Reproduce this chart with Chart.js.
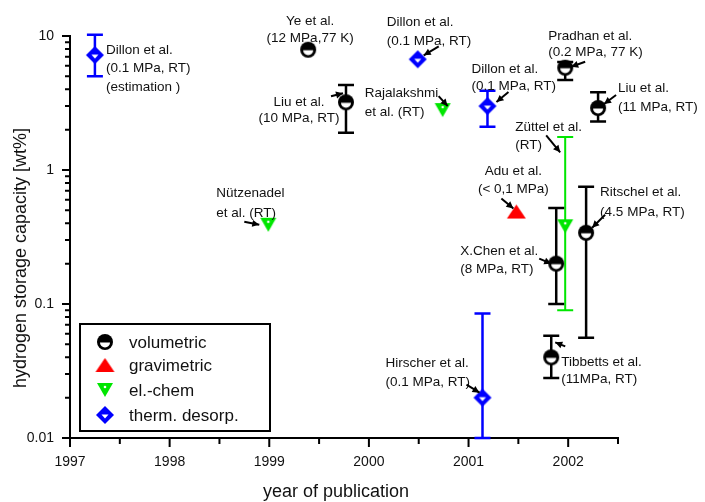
<!DOCTYPE html>
<html>
<head>
<meta charset="utf-8">
<title>Hydrogen storage capacity</title>
<script src="https://cdn.jsdelivr.net/npm/chart.js@4.4.1/dist/chart.umd.min.js"></script>
<style>
  html, body { margin: 0; padding: 0; background: #fff; }
  canvas { display: block; }
</style>
</head>
<body>
<canvas id="grafico" width="705" height="502"></canvas>
<script>
// --- data ---
const methodNames = ['volumetric', 'gravimetric', 'el.-chem', 'therm. desorp.'];
const methodColors = ['#000000', '#ff0000', '#00e600', '#0000ff'];

const years      = [1997.25, 1999.39, 2000.49, 1999.77, 2000.74, 2001.19, 2001.97, 2002.30, 2001.97, 2001.48, 2001.88, 2002.18, 2001.83, 2001.14, 1998.99];
const capacity   = [7.2,     7.9,     6.7,     3.2,     2.8,     3.0,     5.8,     2.9,     0.38,    0.49,    0.2,     0.34,    0.04,    0.02,    0.39];
const errLow     = [5.0,     null,    null,    1.9,     null,    2.1,     4.7,     2.3,     0.09,    null,    0.1,     0.056,   0.028,   0.01,    null];
const errHigh    = [10.2,    null,    null,    4.3,     null,    3.9,     6.4,     3.8,     1.76,    null,    0.52,    0.75,    0.058,   0.085,   null];
const method     = [3,       0,       3,       0,       2,       3,       0,       0,       2,       1,       0,       0,       0,       3,       2];
const refLabels = [
  ['Dillon et al.', '(0.1 MPa, RT)', '(estimation )'],
  ['Ye et al.', '(12 MPa,77 K)'],
  ['Dillon et al.', '(0.1 MPa, RT)'],
  ['Liu et al.', '(10 MPa, RT)'],
  ['Rajalakshmi', 'et al. (RT)'],
  ['Dillon et al.', '(0.1 MPa, RT)'],
  ['Pradhan et al.', '(0.2 MPa, 77 K)'],
  ['Liu et al.', '(11 MPa, RT)'],
  ['Züttel et al.', '(RT)'],
  ['Adu et al.', '(< 0,1 MPa)'],
  ['X.Chen et al.', '(8 MPa, RT)'],
  ['Ritschel et al.', '(4.5 MPa, RT)'],
  ['Tibbetts et al.', '(11MPa, RT)'],
  ['Hirscher et al.', '(0.1 MPa, RT)'],
  ['Nützenadel', 'et al. (RT)'],
];

const xTickLabels = ['1997', '1998', '1999', '2000', '2001', '2002'];
const yTickLabels = ['0.01', '0.1', '1', '10'];

// where each label sits next to its point (px): dx, dy, line gap, align, arrow [x1,y1,x2,y2]
const labelLayout = [
  [11, -5, 18.5, 'left', null],
  [2, -28, 17, 'center', null],
  [-31, -37, 19, 'left', [21, -13, 6, -4]],
  [-47, 0, 16, 'center', [-15, -6, -3, -9]],
  [-78, -17, 19, 'left', [-4, -14, 5, -4]],
  [-16, -37, 17, 'left', [21, -14, 9, -4]],
  [-17, -31, 16, 'left', [20, -6, 6, -1]],
  [20, -20, 19, 'left', [18, -13, 6, -4]],
  [-50, -99, 18, 'left', [-19, -91, -5, -74]],
  [-3, -40, 18, 'center', [-15, -13, -3, -3]],
  [-96, -12, 18, 'left', [-17, -5, -5, 0]],
  [14, -41, 20, 'left', [19, -18, 6, -5]],
  [10, 5, 17, 'left', [14, -11, 4, -15]],
  [-97, -34, 19, 'left', [-16, -13, -3, -5]],
  [-52, -32, 20, 'left', [-24, -3, -9, 0]],
];

const FONT = '"Liberation Sans", Arial, Helvetica, sans-serif';

// --- marker symbols ---
function makeMarker(m) {
  const c = document.createElement('canvas');
  const ctx = c.getContext('2d');
  if (m === 0) {
    c.width = 18; c.height = 18;
    ctx.fillStyle = '#000';
    ctx.beginPath(); ctx.arc(9, 9, 8, 0, Math.PI * 2); ctx.fill();
    ctx.fillStyle = '#fff';
    ctx.beginPath(); ctx.arc(9, 9.5, 5, 0, Math.PI); ctx.closePath(); ctx.fill();
  } else if (m === 1) {
    c.width = 21; c.height = 16;
    ctx.fillStyle = methodColors[1];
    ctx.beginPath(); ctx.moveTo(10.5, 1); ctx.lineTo(20, 15); ctx.lineTo(1, 15); ctx.closePath(); ctx.fill();
  } else if (m === 2) {
    c.width = 18; c.height = 16;
    ctx.fillStyle = methodColors[2];
    ctx.beginPath(); ctx.moveTo(1, 1); ctx.lineTo(17, 1); ctx.lineTo(9, 15); ctx.closePath(); ctx.fill();
    ctx.fillStyle = '#fff';
    ctx.beginPath(); ctx.arc(9, 5, 1.3, 0, Math.PI * 2); ctx.fill();
  } else {
    c.width = 20; c.height = 20;
    ctx.fillStyle = methodColors[3];
    ctx.beginPath(); ctx.moveTo(10, 1); ctx.lineTo(19, 10); ctx.lineTo(10, 19); ctx.lineTo(1, 10); ctx.closePath(); ctx.fill();
    ctx.fillStyle = '#fff';
    ctx.beginPath(); ctx.moveTo(6.5, 9.5); ctx.lineTo(13.5, 9.5); ctx.lineTo(10, 13.5); ctx.closePath(); ctx.fill();
  }
  return c;
}
const markers = methodNames.map((_, m) => makeMarker(m));

const datasets = methodNames.map((name, m) => ({
  label: name,
  data: years.map((x, i) => ({ x, y: capacity[i], i })).filter(p => method[p.i] === m),
  pointStyle: markers[m],
  showLine: false,
}));

function seta(ctx, x1, y1, x2, y2) {
  const ang = Math.atan2(y2 - y1, x2 - x1);
  ctx.beginPath(); ctx.moveTo(x1, y1); ctx.lineTo(x2, y2); ctx.stroke();
  ctx.beginPath();
  ctx.moveTo(x2, y2);
  ctx.lineTo(x2 - 7 * Math.cos(ang) + 3.5 * Math.sin(ang), y2 - 7 * Math.sin(ang) - 3.5 * Math.cos(ang));
  ctx.lineTo(x2 - 7 * Math.cos(ang) - 3.5 * Math.sin(ang), y2 - 7 * Math.sin(ang) + 3.5 * Math.cos(ang));
  ctx.closePath(); ctx.fill();
}

// error bars go under the markers
const errorBars = {
  id: 'errorBars',
  beforeDatasetsDraw(chart) {
    const { ctx, scales: { x, y } } = chart;
    ctx.save();
    years.forEach((yr, i) => {
      if (errLow[i] == null) return;
      const px = x.getPixelForValue(yr);
      const top = y.getPixelForValue(errHigh[i]);
      const bot = y.getPixelForValue(errLow[i]);
      ctx.strokeStyle = methodColors[method[i]];
      ctx.lineWidth = method[i] === 2 ? 2 : 2.5;
      ctx.beginPath();
      ctx.moveTo(px, top); ctx.lineTo(px, bot);
      ctx.moveTo(px - 8, top); ctx.lineTo(px + 8, top);
      ctx.moveTo(px - 8, bot); ctx.lineTo(px + 8, bot);
      ctx.stroke();
    });
    ctx.restore();
  }
};

const decorations = {
  id: 'decorations',
  afterDraw(chart) {
    const { ctx, scales: { x, y }, chartArea: area } = chart;
    ctx.save();
    ctx.strokeStyle = '#000';
    ctx.lineWidth = 2;

    // tick marks, major and minor
    ctx.beginPath();
    for (let v = x.min; v <= x.max + 1e-9; v += 0.5) {
      const px = x.getPixelForValue(v);
      const len = Number.isInteger(v) ? 9 : 6;
      ctx.moveTo(px, area.bottom); ctx.lineTo(px, area.bottom + len);
    }
    for (let e = -2; e <= 1; e++) {
      for (let k = 1; k <= 9; k++) {
        const v = k * Math.pow(10, e);
        if (v > y.max * 1.0001) break;
        const py = y.getPixelForValue(v);
        const len = k === 1 ? 8 : 5;
        ctx.moveTo(area.left - len, py); ctx.lineTo(area.left, py);
      }
    }
    ctx.stroke();

    // point labels with arrows
    ctx.fillStyle = '#111';
    ctx.font = '13.5px ' + FONT;
    ctx.textBaseline = 'middle';
    years.forEach((yr, i) => {
      const px = x.getPixelForValue(yr);
      const py = y.getPixelForValue(capacity[i]);
      const [dx, dy, gap, align, arrow] = labelLayout[i];
      ctx.textAlign = align;
      refLabels[i].forEach((t, k) => ctx.fillText(t, px + dx, py + dy + k * gap));
      if (arrow) {
        ctx.lineWidth = 2;
        ctx.fillStyle = '#000';
        seta(ctx, px + arrow[0], py + arrow[1], px + arrow[2], py + arrow[3]);
        ctx.fillStyle = '#111';
      }
    });

    // legend box
    ctx.lineWidth = 2;
    ctx.strokeRect(80, 324, 190, 107);
    ctx.font = '17px ' + FONT;
    ctx.textAlign = 'left';
    const rows = [342, 365, 390, 415];
    methodNames.forEach((name, m) => {
      const mk = markers[m];
      ctx.drawImage(mk, 105 - mk.width / 2, rows[m] - mk.height / 2);
      ctx.fillStyle = '#111';
      ctx.fillText(name, 129, rows[m] + 1);
    });

    // axis titles
    ctx.font = '18px ' + FONT;
    ctx.textAlign = 'center';
    ctx.fillText('year of publication', 336, 492);
    ctx.translate(21, 258);
    ctx.rotate(-Math.PI / 2);
    ctx.fillText('hydrogen storage capacity [wt%]', 0, 0);
    ctx.restore();
  }
};

new Chart(document.getElementById('grafico'), {
  type: 'scatter',
  data: { datasets },
  options: {
    responsive: false,
    devicePixelRatio: 1,
    animation: false,
    layout: { padding: { left: 0, top: 36, right: 87, bottom: 0 } },
    plugins: { legend: { display: false }, tooltip: { enabled: false } },
    scales: {
      x: {
        type: 'linear',
        min: 1997,
        max: 2002.5,
        afterFit: (s) => { s.height = 64; },
        afterBuildTicks: (s) => { s.ticks = xTickLabels.map(l => ({ value: Number(l) })); },
        grid: { display: false, drawTicks: false },
        border: { display: true, color: '#000', width: 2 },
        ticks: {
          padding: 16,
          maxRotation: 0,
          autoSkip: false,
          color: '#111',
          font: { family: FONT, size: 14 },
          callback: (v) => xTickLabels[Math.round(v) - 1997],
        },
      },
      y: {
        type: 'logarithmic',
        min: 0.01,
        max: 10,
        afterFit: (s) => { s.width = 70; },
        grid: { display: false, drawTicks: false },
        border: { display: true, color: '#000', width: 2 },
        ticks: {
          padding: 16,
          autoSkip: false,
          color: '#111',
          font: { family: FONT, size: 14 },
          callback: (v) => {
            const d = Math.log10(v);
            return Math.abs(d - Math.round(d)) < 1e-6 ? yTickLabels[Math.round(d) + 2] : '';
          },
        },
      },
    },
  },
  plugins: [errorBars, decorations],
});
</script>
</body>
</html>
